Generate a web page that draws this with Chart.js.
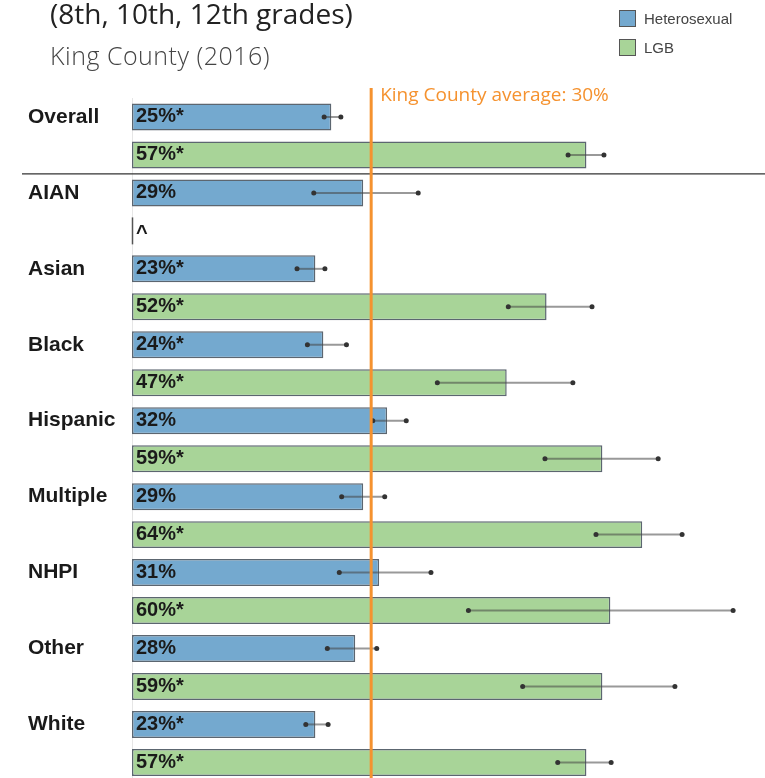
<!DOCTYPE html>
<html>
<head>
<meta charset="utf-8">
<script src="https://cdn.jsdelivr.net/npm/chart.js@4.4.1/dist/chart.umd.min.js"></script>
<style>
  html,body{margin:0;padding:0;background:#fff;overflow:hidden;}
  #wrap{position:relative;width:765px;height:797px;}
  #title{position:absolute;left:50px;top:-6px;font:400 28px "Open Sans",sans-serif;color:#222;white-space:nowrap;}
  #sub{position:absolute;left:50px;top:38px;font:300 25px "Open Sans",sans-serif;letter-spacing:0.5px;color:#444;white-space:nowrap;}
  .leg{position:absolute;left:619px;font:15px "Liberation Sans",Arial,sans-serif;color:#444;}
  .leg span{display:inline-block;width:15px;height:15px;border:1.5px solid #555;vertical-align:-3px;margin-right:8px;}
</style>
</head>
<body>
<div id="wrap">
  <div id="title">(8th, 10th, 12th grades)</div>
  <div id="sub">King County (2016)</div>
  <div class="leg" style="top:10px"><span style="background:#74a9cf"></span>Heterosexual</div>
  <div class="leg" style="top:39px"><span style="background:#a8d498"></span>LGB</div>
  <canvas id="chart" width="765" height="797"></canvas>
</div>
<script>
// data
const groups = ["Overall","AIAN","Asian","Black","Hispanic","Multiple","NHPI","Other","White"];
const heteroVals = [25,29,23,24,32,29,31,28,23];
const heteroLabels = ["25%*","29%","23%*","24%*","32%","29%","31%","28%","23%*"];
const heteroLow = [24.1,22.8,20.7,22.0,30.2,26.3,26.0,24.5,21.8];
const heteroHigh = [26.2,35.9,24.2,26.9,34.4,31.7,37.5,30.7,24.6];
const lgbVals = [57,0,52,47,59,64,60,59,57];
const lgbLabels = ["57%*","^","52%*","47%*","59%*","64%*","60%*","59%*","57%*"];
const lgbLow = [54.7,null,47.2,38.3,51.8,58.2,42.2,49.0,53.4];
const lgbHigh = [59.2,null,57.7,55.3,66.0,69.0,75.4,68.1,60.1];
const countyAvg = 30;

const BLUE = "#74a9cf", GREEN = "#a8d498", ORANGE = "#f5922f";

// error bars, value labels, average line, separator
const extras = {
  id: "extras",
  afterDatasetsDraw(chart){
    const ctx = chart.ctx, x = chart.scales.x, area = chart.chartArea;
    const sets = [[heteroLow,heteroHigh,heteroLabels],[lgbLow,lgbHigh,lgbLabels]];
    sets.forEach((s,di)=>{
      const meta = chart.getDatasetMeta(di);
      meta.data.forEach((bar,i)=>{
        const y = bar.y;
        // empty bar marker
        if(chart.data.datasets[di].data[i] === 0){
          ctx.save();
          ctx.strokeStyle = "#555"; ctx.lineWidth = 1.5;
          ctx.beginPath(); ctx.moveTo(bar.base+0.5, y-bar.height/2); ctx.lineTo(bar.base+0.5, y+bar.height/2); ctx.stroke();
          ctx.restore();
        }
        // value label
        ctx.save();
        ctx.fillStyle = "#1a1a1a";
        ctx.font = "bold 20px 'Liberation Sans', Arial, sans-serif";
        ctx.textBaseline = "middle";
        ctx.fillText(s[2][i], x.getPixelForValue(0)+4, y+ (s[2][i]==="^" ? 3 : 0));
        ctx.restore();
        // error bar
        if(s[0][i] != null){
          const x1 = x.getPixelForValue(s[0][i]), x2 = x.getPixelForValue(s[1][i]);
          ctx.save();
          ctx.strokeStyle = "rgba(70,70,70,0.55)"; ctx.lineWidth = 2;
          ctx.beginPath(); ctx.moveTo(x1,y); ctx.lineTo(x2,y); ctx.stroke();
          ctx.fillStyle = "#333";
          [x1,x2].forEach(px=>{ ctx.beginPath(); ctx.arc(px,y,2.5,0,Math.PI*2); ctx.fill(); });
          ctx.restore();
        }
      });
    });
    // separator under Overall
    const yScale = chart.scales.y;
    const sepY = (yScale.getPixelForValue(0)+yScale.getPixelForValue(1))/2;
    ctx.save();
    ctx.strokeStyle = "#333"; ctx.lineWidth = 1.2;
    ctx.beginPath(); ctx.moveTo(22, sepY); ctx.lineTo(chart.width, sepY); ctx.stroke();
    // county average line
    const ax = x.getPixelForValue(countyAvg);
    ctx.strokeStyle = ORANGE; ctx.lineWidth = 3;
    ctx.beginPath(); ctx.moveTo(ax, area.top-10); ctx.lineTo(ax, chart.height); ctx.stroke();
    ctx.fillStyle = ORANGE;
    ctx.font = "19px 'Open Sans', sans-serif";
    ctx.textBaseline = "middle";
    ctx.fillText("King County average: " + countyAvg + "%", ax+9, area.top-2);
    ctx.restore();
  }
};

new Chart(document.getElementById("chart"), {
  type: "bar",
  data: {
    labels: groups,
    datasets: [
      { label:"Heterosexual", data:heteroVals, backgroundColor:BLUE, borderColor:"#5c6670", borderWidth:1.5, borderSkipped:false },
      { label:"LGB", data:lgbVals, backgroundColor:GREEN, borderColor:"#5c6670", borderWidth:1.5, borderSkipped:false }
    ]
  },
  options: {
    indexAxis: "y",
    responsive: false,
    animation: false,
    categoryPercentage: 1,
    barPercentage: 0.71,
    layout: { padding: { top: 98, left: 28, right: 0, bottom: 0 } },
    plugins: { legend: { display:false }, tooltip: { enabled:false } },
    scales: {
      x: { display:false, min:0, max:79.4 },
      y: {
        grid: { display:false },
        border: { color:"#e6e6e6" },
        ticks: {
          crossAlign: "far",
          labelOffset: -19,
          color: "#1a1a1a",
          font: { family:"'Liberation Sans', Arial, sans-serif", size:21, weight:"bold" }
        },
        afterFit(scale){ scale.width = 104; }
      }
    }
  },
  plugins: [extras]
});
</script>
</body>
</html>
